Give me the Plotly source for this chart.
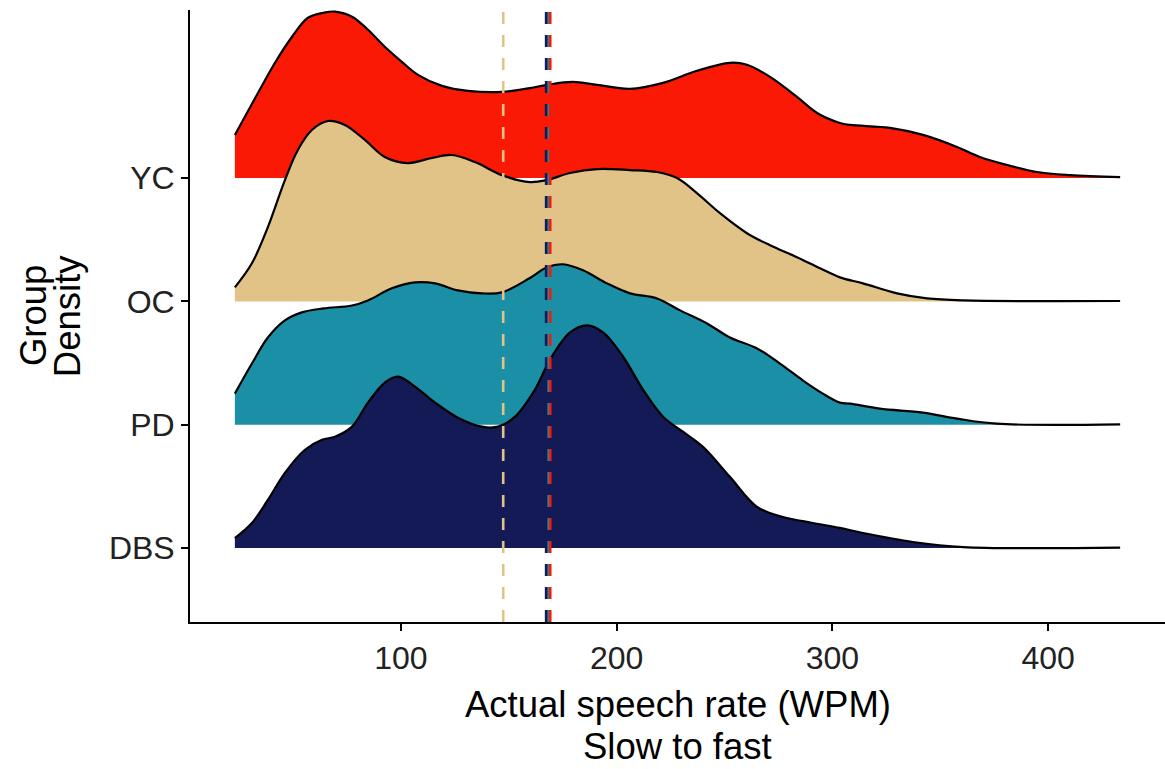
import plotly.graph_objects as go

# Groups, back row first (drawn first so lower rows overlap them)
groups = ["YC", "OC", "PD", "DBS"]
rows = {"DBS": 1, "PD": 2, "OC": 3, "YC": 4}
fill_colors = {"YC": "#FA1905", "OC": "#E1C387", "PD": "#1A8FA5", "DBS": "#141A55"}

# Ridge heights (in row units) along the speech-rate axis (WPM)
yc_x = [23.0, 33.7, 41.6, 49.5, 56.9, 64.2, 69.4, 77.3, 84.7, 92.5, 100.4, 107.9, 119.0, 131.1,
        146.8, 159.8, 167.7, 179.7, 190.9, 206.2, 221.5, 237.2, 252.5, 260.4, 271.1, 283.6,
        292.9, 303.5, 308.2, 326.7, 342.0, 357.8, 368.4, 381.0, 394.9, 410.2, 433.4]
yc_h = [0.35, 0.69, 0.935, 1.146, 1.30, 1.341, 1.35, 1.309, 1.203, 1.065, 0.943, 0.837, 0.748, 0.707,
        0.699, 0.73, 0.756, 0.78, 0.756, 0.724, 0.772, 0.870, 0.935, 0.919, 0.821, 0.659,
        0.528, 0.447, 0.431, 0.407, 0.35, 0.252, 0.171, 0.106, 0.049, 0.024, 0.008]

oc_x = [23.0, 30.9, 38.3, 46.2, 52.2, 58.7, 66.2, 74.0, 83.3, 92.5, 103.2, 114.4, 123.6, 134.3,
        146.8, 159.8, 167.7, 178.4, 190.9, 206.2, 218.7, 228.0, 237.2, 247.9, 260.4, 271.1,
        283.6, 294.3, 303.5, 314.2, 330.0, 343.9, 360.6, 433.4]
oc_h = [0.114, 0.309, 0.602, 0.984, 1.228, 1.390, 1.463, 1.431, 1.309, 1.171, 1.122, 1.163, 1.187, 1.130,
        1.024, 0.967, 0.984, 1.041, 1.073, 1.065, 1.049, 1.0, 0.878, 0.715, 0.553, 0.455,
        0.358, 0.268, 0.195, 0.146, 0.065, 0.024, 0.008, 0.003]

pd_x = [23.0, 30.9, 38.3, 46.2, 54.1, 64.2, 77.3, 84.7, 95.8, 106.5, 115.8, 126.4, 137.6, 146.8,
        159.8, 167.7, 175.1, 184.4, 195.5, 206.2, 218.7, 229.4, 241.9, 252.5, 265.1, 275.7,
        286.4, 295.6, 303.5, 308.2, 322.0, 342.0, 357.8, 376.3, 433.4]
pd_h = [0.252, 0.496, 0.707, 0.846, 0.911, 0.943, 0.967, 1.008, 1.106, 1.154, 1.146, 1.089, 1.065, 1.073,
        1.19, 1.276, 1.301, 1.252, 1.146, 1.065, 1.024, 0.927, 0.821, 0.707, 0.618, 0.496,
        0.358, 0.252, 0.179, 0.171, 0.130, 0.098, 0.049, 0.008, 0.003]

dbs_x = [23.0, 30.9, 38.3, 46.2, 55.5, 63.4, 69.4, 77.3, 84.7, 92.5, 98.6, 106.5, 115.8, 126.4,
         137.6, 145.0, 152.9, 162.1, 169.1, 178.4, 186.2, 193.7, 202.9, 212.2, 221.5, 230.7,
         240.0, 252.5, 265.1, 277.1, 291.0, 303.5, 314.2, 337.4, 360.6, 433.4]
dbs_h = [0.081, 0.203, 0.390, 0.610, 0.797, 0.878, 0.902, 0.984, 1.179, 1.341, 1.390, 1.309, 1.179, 1.057,
         0.984, 0.984, 1.065, 1.285, 1.528, 1.748, 1.805, 1.748, 1.553, 1.285, 1.065, 0.943,
         0.821, 0.577, 0.333, 0.252, 0.203, 0.163, 0.122, 0.049, 0.008, 0.003]

# Group mean speech rates (dashed reference lines)
mean_groups = ["PD", "DBS", "OC", "YC"]
mean_wpm = [168.2, 167.3, 147.4, 169.2]

curves = {"YC": (yc_x, yc_h), "OC": (oc_x, oc_h), "PD": (pd_x, pd_h), "DBS": (dbs_x, dbs_h)}

FONT = "Liberation Sans, Arial, Helvetica, sans-serif"

fig = go.Figure()
for g in groups:
    xs, hs = curves[g]
    base = rows[g]
    fig.add_trace(go.Scatter(
        x=xs, y=[base] * len(xs), mode="lines",
        line=dict(width=0, color="rgba(0,0,0,0)"),
        showlegend=False, hoverinfo="skip"))
    fig.add_trace(go.Scatter(
        x=xs, y=[base + h for h in hs], mode="lines", name=g,
        fill="tonexty", fillcolor=fill_colors[g],
        line=dict(color="black", width=2.2, shape="spline", smoothing=1.0),
        showlegend=False))

for g, m in zip(mean_groups, mean_wpm):
    fig.add_vline(x=m, line=dict(color=fill_colors[g], width=2.6, dash="12px,11px"),
                  layer="above")

axis_style = dict(showgrid=False, zeroline=False,
                  showline=True, linecolor="black", linewidth=1.8,
                  ticks="outside", ticklen=7, tickwidth=1.8, tickcolor="black",
                  tickfont=dict(size=32, color="#222222", family=FONT))

title_font = dict(size=36.5, family=FONT, color="black")

fig.update_layout(
    width=1165, height=769,
    margin=dict(l=190, r=0, t=10, b=147),
    plot_bgcolor="white", paper_bgcolor="white",
    font=dict(family=FONT, color="black"),
    xaxis=dict(range=[2.2, 454.2], tickvals=[100, 200, 300, 400], **axis_style),
    yaxis=dict(range=[0.4, 5.363], tickvals=[1, 2, 3, 4],
               ticktext=["DBS", "PD", "OC", "YC"], **axis_style),
    annotations=[
        dict(text="Actual speech rate (WPM)", xref="paper", yref="paper",
             x=0.5, y=-0.1356, xanchor="center", yanchor="middle",
             showarrow=False, font=title_font),
        dict(text="Slow to fast", xref="paper", yref="paper",
             x=0.5, y=-0.2042, xanchor="center", yanchor="middle",
             showarrow=False, font=title_font),
        dict(text="Group", xref="paper", yref="paper",
             x=-0.161, y=0.5, xanchor="center", yanchor="middle", textangle=-90,
             showarrow=False, font=title_font),
        dict(text="Density", xref="paper", yref="paper",
             x=-0.126, y=0.5, xanchor="center", yanchor="middle", textangle=-90,
             showarrow=False, font=title_font),
    ],
)

fig.write_html("out.html")
